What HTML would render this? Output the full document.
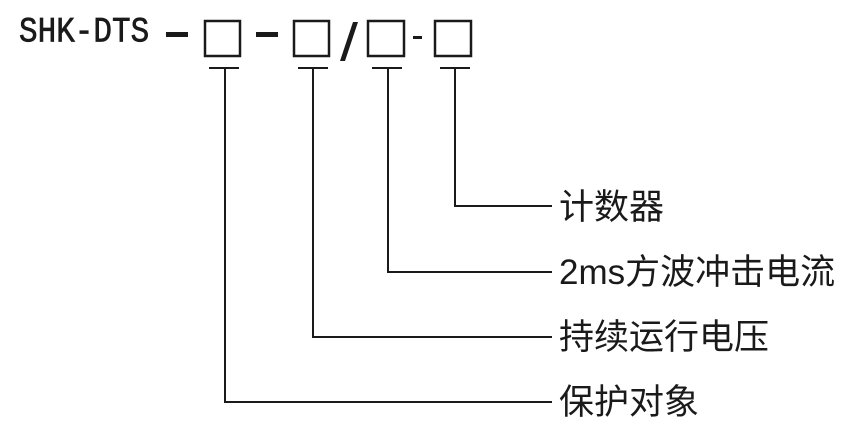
<!DOCTYPE html>
<html><head><meta charset="utf-8"><style>
html,body{margin:0;padding:0;background:#fff;}
body{width:864px;height:442px;position:relative;overflow:hidden;}
.t{position:absolute;font-family:"Liberation Sans","Noto Sans CJK SC",sans-serif;font-size:35px;color:#1a1a1a;line-height:1;white-space:nowrap;}
</style></head><body>
<svg width="864" height="442" style="position:absolute;left:0;top:0">
<g stroke="#1a1a1a" fill="none" stroke-width="2">
<rect x="205" y="21" width="35" height="35" stroke-width="2.5"/>
<rect x="294" y="21" width="35" height="35" stroke-width="2.5"/>
<rect x="368" y="21" width="36" height="35" stroke-width="2.5"/>
<rect x="435" y="21" width="36" height="35" stroke-width="2.5"/>
<line x1="209" y1="68" x2="239" y2="68"/>
<line x1="298" y1="68" x2="328" y2="68"/>
<line x1="372" y1="68" x2="402" y2="68"/>
<line x1="440" y1="68" x2="470" y2="68"/>
<polyline points="225,68 225,402 552,402"/>
<polyline points="313,68 313,337 552,337"/>
<polyline points="388,68 388,272 552,272"/>
<polyline points="455,68 455,206 552,206"/>
</g>
<g fill="#1a1a1a">
<rect x="166" y="32" width="22" height="5"/>
<rect x="256" y="32" width="22" height="5"/>
<rect x="413" y="36" width="9" height="3"/>
<polygon points="353,22 358,22 345,61 340,61"/>
</g>
</svg>
<div class="t" style="left:19px;top:15px;font-family:'Liberation Mono',monospace;font-size:31px;transform:scaleY(1.15);transform-origin:0 0;-webkit-text-stroke:0.6px #1a1a1a;">SHK-DTS</div>
<div class="t" style="left:559px;top:190px;">计数器</div>
<div class="t" style="left:559px;top:255px;">2ms方波冲击电流</div>
<div class="t" style="left:559px;top:320px;">持续运行电压</div>
<div class="t" style="left:559px;top:385px;">保护对象</div>
</body></html>
